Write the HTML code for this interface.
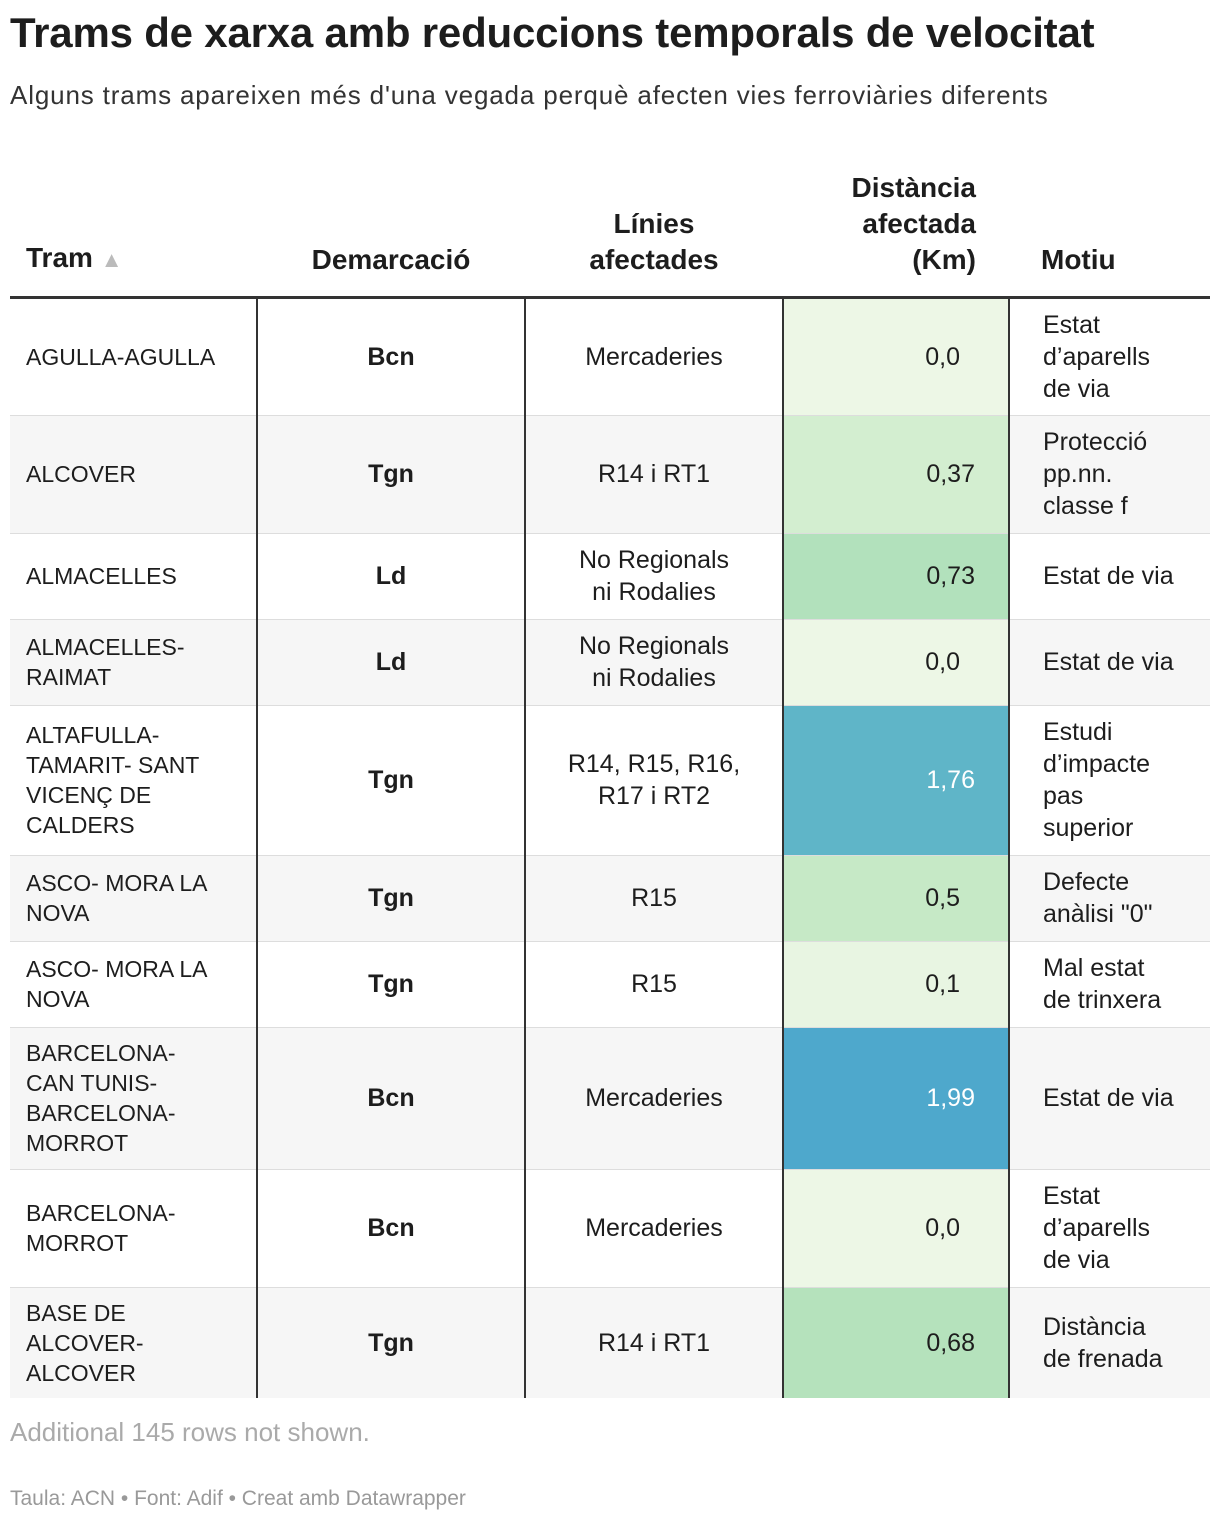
<!DOCTYPE html>
<html><head><meta charset="utf-8"><style>
body{margin:0;background:#fff;font-family:"Liberation Sans",sans-serif;color:#1d1d1d;width:1220px;height:1524px;position:relative;overflow:hidden}
h1{position:absolute;left:10px;top:9px;margin:0;font-size:42px;font-weight:bold;letter-spacing:-0.2px}
.sub{position:absolute;left:10px;top:80px;font-size:26px;color:#333;letter-spacing:0.85px}
table{position:absolute;left:10px;top:160px;border-collapse:collapse;width:1200px;table-layout:fixed}
th{font-size:28px;font-weight:bold;vertical-align:bottom;padding:0 16px 18px;line-height:36px;border-bottom:3px solid #333}
td{font-size:25px;line-height:32px;padding:0 16px;border-top:1px solid #ddd;vertical-align:middle}
td.t{font-size:23px;line-height:30px;padding-right:32px}
td.d{text-align:center;font-weight:bold}
td.l{text-align:center}
td.n{text-align:right;padding-right:33px}
td.m{padding-left:33px;padding-right:10px;white-space:nowrap}
td.b{border-left:2px solid #333}
tr.g td{background:#f6f6f6}
.foot1{position:absolute;left:10px;top:1417px;font-size:26px;color:#aaa}
.foot2{position:absolute;left:10px;top:1487px;font-size:21px;color:#999}
</style></head><body>
<h1>Trams de xarxa amb reduccions temporals de velocitat</h1>
<div class="sub">Alguns trams apareixen més d'una vegada perquè afecten vies ferroviàries diferents</div>
<table>
<colgroup><col style="width:247px"><col style="width:268px"><col style="width:258px"><col style="width:226px"><col style="width:201px"></colgroup>
<tr style="height:137px"><th style="text-align:left">Tram <span style="color:#bbb;font-size:22px">▲</span></th><th>Demarcació</th><th>Línies<br>afectades</th><th style="text-align:right;padding-right:33px">Distància<br>afectada<br>(Km)</th><th style="text-align:left;padding-left:32px">Motiu</th></tr>
<tr style="height:118px"><td class="t">AGULLA-AGULLA</td><td class="d b">Bcn</td><td class="l b">Mercaderies</td><td class="n b" style="background:#edf7e6;padding-right:48px">0,0</td><td class="b m">Estat<br>d’aparells<br>de via</td></tr>
<tr class="g" style="height:118px"><td class="t">ALCOVER</td><td class="d b">Tgn</td><td class="l b">R14 i RT1</td><td class="n b" style="background:#d3eed0">0,37</td><td class="b m">Protecció<br>pp.nn.<br>classe f</td></tr>
<tr style="height:86px"><td class="t">ALMACELLES</td><td class="d b">Ld</td><td class="l b">No Regionals<br>ni Rodalies</td><td class="n b" style="background:#b2e1bc">0,73</td><td class="b m">Estat de via</td></tr>
<tr class="g" style="height:86px"><td class="t">ALMACELLES-RAIMAT</td><td class="d b">Ld</td><td class="l b">No Regionals<br>ni Rodalies</td><td class="n b" style="background:#edf7e6;padding-right:48px">0,0</td><td class="b m">Estat de via</td></tr>
<tr style="height:150px"><td class="t">ALTAFULLA-TAMARIT- SANT VICENÇ DE CALDERS</td><td class="d b">Tgn</td><td class="l b">R14, R15, R16, R17 i RT2</td><td class="n b" style="background:#5fb5c8;color:#fff">1,76</td><td class="b m">Estudi<br>d’impacte<br>pas<br>superior</td></tr>
<tr class="g" style="height:86px"><td class="t">ASCO- MORA LA NOVA</td><td class="d b">Tgn</td><td class="l b">R15</td><td class="n b" style="background:#c6e9c6;padding-right:48px">0,5</td><td class="b m">Defecte<br>anàlisi "0"</td></tr>
<tr style="height:86px"><td class="t">ASCO- MORA LA NOVA</td><td class="d b">Tgn</td><td class="l b">R15</td><td class="n b" style="background:#e8f5e2;padding-right:48px">0,1</td><td class="b m">Mal estat<br>de trinxera</td></tr>
<tr class="g" style="height:142px"><td class="t">BARCELONA-<br>CAN TUNIS-<br>BARCELONA-<br>MORROT</td><td class="d b">Bcn</td><td class="l b">Mercaderies</td><td class="n b" style="background:#4ea8cc;color:#fff">1,99</td><td class="b m">Estat de via</td></tr>
<tr style="height:118px"><td class="t">BARCELONA-MORROT</td><td class="d b">Bcn</td><td class="l b">Mercaderies</td><td class="n b" style="background:#edf7e6;padding-right:48px">0,0</td><td class="b m">Estat<br>d’aparells<br>de via</td></tr>
<tr class="g" style="height:111px"><td class="t">BASE DE ALCOVER-ALCOVER</td><td class="d b">Tgn</td><td class="l b">R14 i RT1</td><td class="n b" style="background:#b5e2bc">0,68</td><td class="b m">Distància<br>de frenada</td></tr>
</table>
<div class="foot1">Additional 145 rows not shown.</div>
<div class="foot2">Taula: ACN • Font: Adif • Creat amb Datawrapper</div>
</body></html>
